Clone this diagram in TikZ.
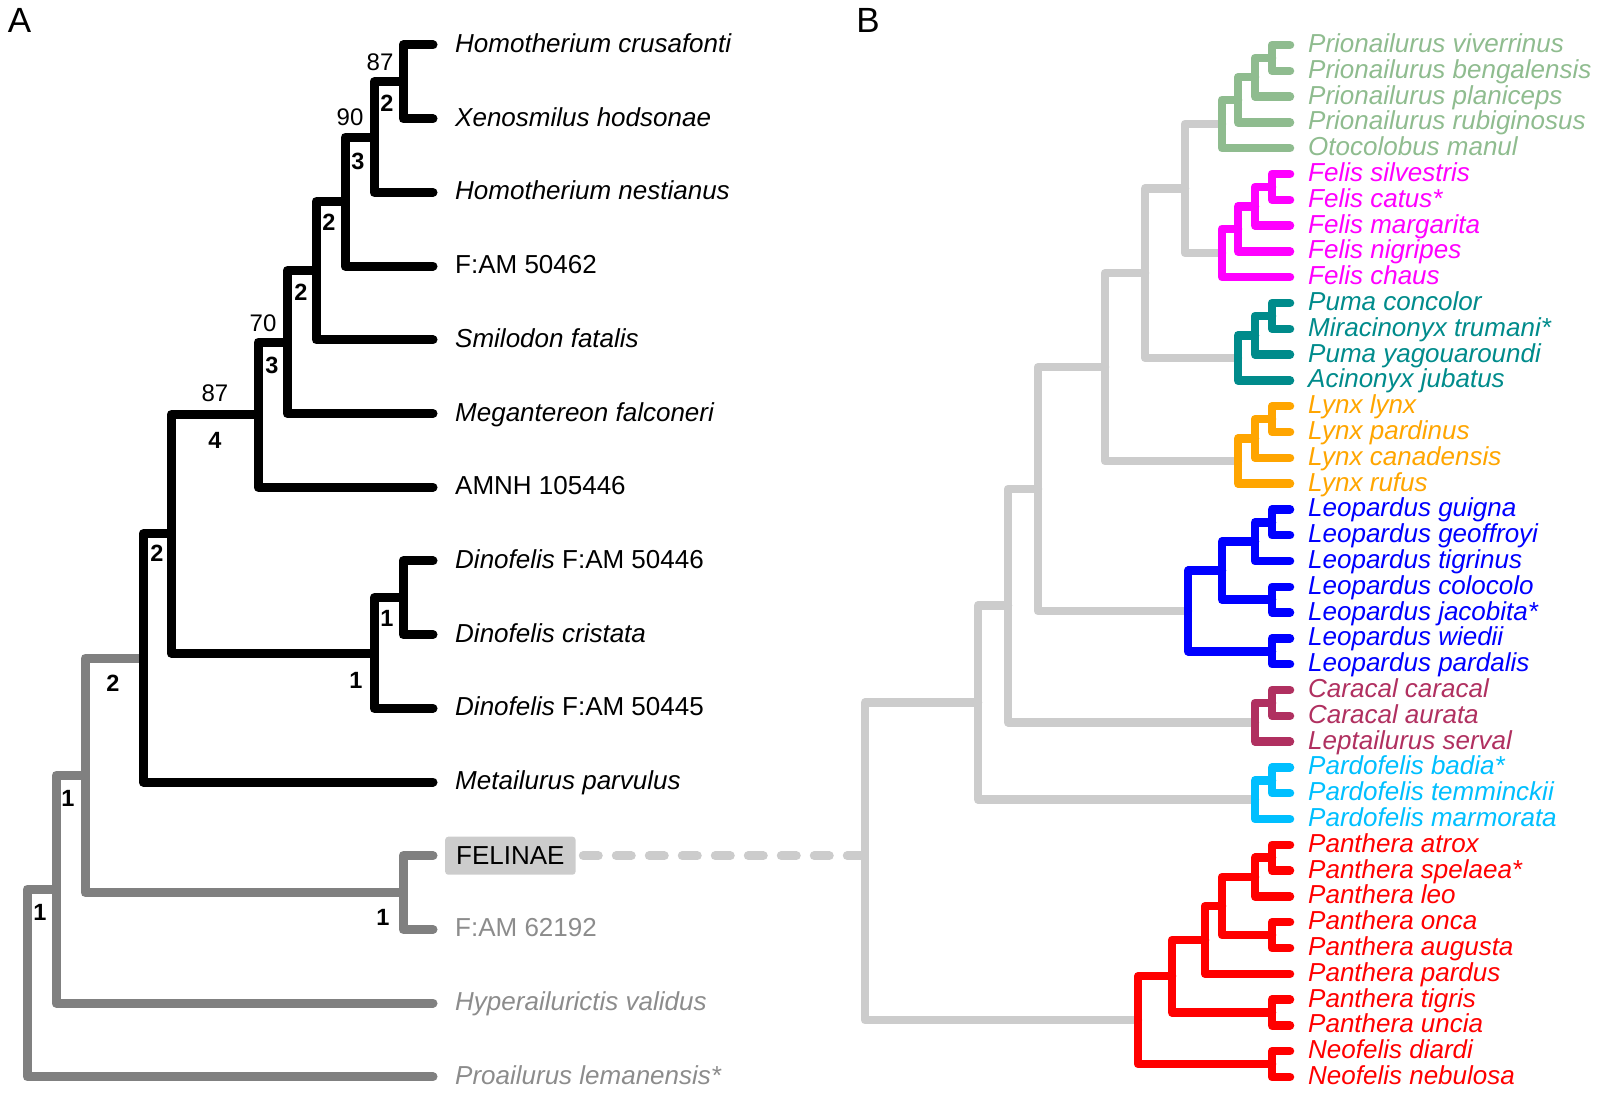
\documentclass[tikz,border=0pt]{standalone}
\usepackage{fontspec}
\setmainfont{Liberation Sans}
\definecolor{agrey}{HTML}{808080}
\definecolor{agreytext}{HTML}{8C8C8C}
\definecolor{bgrey}{HTML}{CCCCCC}
\definecolor{pgreen}{HTML}{8FBC8F}
\definecolor{fmag}{HTML}{FF00FF}
\definecolor{pteal}{HTML}{008B8B}
\definecolor{lorange}{HTML}{FFA500}
\definecolor{lblue}{HTML}{0000FF}
\definecolor{cmaroon}{HTML}{B03060}
\definecolor{pcyan}{HTML}{00BFFF}
\definecolor{pred}{HTML}{FF0000}
\begin{document}
\begin{tikzpicture}
[x=1pt,y=-1pt,
  brA/.style={line width=9pt,line cap=round,line join=round},%
  brB/.style={line width=8.5pt,line cap=round,line join=round},%
  labA/.style={inner sep=0pt,anchor=base west,font=\fontsize{26}{30}\selectfont},%
  labB/.style={inner sep=0pt,anchor=base west,font=\fontsize{26}{30}\selectfont\itshape},%
  supp/.style={inner sep=0pt,font=\fontsize{24}{28}\selectfont},%
  bsupp/.style={inner sep=0pt,font=\fontsize{23.5}{27}\selectfont\bfseries},%
  panel/.style={inner sep=0pt,font=\fontsize{35}{40}\selectfont},%
  cladebox/.style={fill=bgrey,rounded corners=3pt,inner xsep=11pt,minimum height=38pt,
    anchor=west,font=\fontsize{26}{30}\selectfont},%
  linkdash/.style={bgrey,line width=9pt,line cap=round,dash pattern=on 15pt off 18pt}]
\useasboundingbox (0,0) rectangle (1600,1094);
\node[panel] (pA) at (19.5,20.5) {A};
\node[panel] (pB) at (868,20.5) {B};
%% panel A: tips and labels
\foreach \i in {0,...,14} {
  \coordinate (t\i) at (433,{45+73.7*\i});
}
\foreach \i/\nm/\col/\txt in {0/hcru/black/\textit{Homotherium crusafonti},
  1/xhod/black/\textit{Xenosmilus hodsonae}, 2/hnes/black/\textit{Homotherium nestianus},
  3/fam462/black/F:AM 50462, 4/sfat/black/\textit{Smilodon fatalis},
  5/mfal/black/\textit{Megantereon falconeri}, 6/amnh/black/AMNH 105446,
  7/dino446/black/\textit{Dinofelis} F:AM 50446, 8/dcri/black/\textit{Dinofelis cristata},
  9/dino445/black/\textit{Dinofelis} F:AM 50445, 10/mpar/black/\textit{Metailurus parvulus},
  12/fam192/agreytext/F:AM 62192, 13/hval/agreytext/\textit{Hyperailurictis validus},
  14/plem/agreytext/\textit{Proailurus lemanensis*}} {
  \node[labA,text=\col] (\nm) at ([xshift=22pt,yshift=-7.5pt]t\i) {\txt};
}
\node[cladebox] (felinae) at (445,855.7) {FELINAE};
%% panel A: internal nodes
\foreach \n/\x/\y in {a1/403/81.85, a2/374/137.1, a3/345/201.6, a4/316/270.7,
  a5/287/342.1, a6/258/414.7, d1/403/597.8, d2/374/653, a7/171/533.9, a8/143/658,
  fe1/403/892.6, g1/85/775.3, g2/56/889.2, g3/27/983} {
  \coordinate (\n) at (\x,\y);
}
%% panel A: branches
\foreach \p/\c in {g3/g2, g3/t14, g2/g1, g2/t13, g1/a8, g1/fe1, fe1/t11, fe1/t12} {
  \draw[brA,agrey] (\p) |- (\c);
}
\foreach \p/\c in {a8/a7, a8/t10, a7/a6, a7/d2, d2/d1, d2/t9, d1/t7, d1/t8,
  a6/a5, a6/t6, a5/a4, a5/t5, a4/a3, a4/t4, a3/a2, a3/t3, a2/a1, a2/t2, a1/t0, a1/t1} {
  \draw[brA,black] (\p) |- (\c);
}
%% panel A: support values
\foreach \n/\x/\y/\v in {s1/380/62/87, s2/350/117/90, s3/263/323/70, s4/215/393/87} {
  \node[supp] (\n) at (\x,\y) {\v};
}
\foreach \n/\x/\y/\v in {r1/387/103/2, r2/358/161/3, r3/329/222/2, r4/301/292/2,
  r5/272/365/3, r6/215/440/4, r7/157/553/2, r8/387/618/1, r9/356/680/1, r10/113/683/2,
  r11/68/798/1, r12/40/912/1, r13/383/917/1} {
  \node[bsupp] (\n) at (\x,\y) {\v};
}
%% panel B: tips and labels
\foreach \j/\col/\txt in {0/pgreen/Prionailurus viverrinus, 1/pgreen/Prionailurus bengalensis,
  2/pgreen/Prionailurus planiceps, 3/pgreen/Prionailurus rubiginosus, 4/pgreen/Otocolobus manul,
  5/fmag/Felis silvestris, 6/fmag/Felis catus*, 7/fmag/Felis margarita, 8/fmag/Felis nigripes,
  9/fmag/Felis chaus, 10/pteal/Puma concolor, 11/pteal/Miracinonyx trumani*,
  12/pteal/Puma yagouaroundi, 13/pteal/Acinonyx jubatus, 14/lorange/Lynx lynx,
  15/lorange/Lynx pardinus, 16/lorange/Lynx canadensis, 17/lorange/Lynx rufus,
  18/lblue/Leopardus guigna, 19/lblue/Leopardus geoffroyi, 20/lblue/Leopardus tigrinus,
  21/lblue/Leopardus colocolo, 22/lblue/Leopardus jacobita*, 23/lblue/Leopardus wiedii,
  24/lblue/Leopardus pardalis, 25/cmaroon/Caracal caracal, 26/cmaroon/Caracal aurata,
  27/cmaroon/Leptailurus serval, 28/pcyan/Pardofelis badia*, 29/pcyan/Pardofelis temminckii,
  30/pcyan/Pardofelis marmorata, 31/pred/Panthera atrox, 32/pred/Panthera spelaea*,
  33/pred/Panthera leo, 34/pred/Panthera onca, 35/pred/Panthera augusta,
  36/pred/Panthera pardus, 37/pred/Panthera tigris, 38/pred/Panthera uncia,
  39/pred/Neofelis diardi, 40/pred/Neofelis nebulosa} {
  \coordinate (b\j) at (1290,{45+25.8*\j});
  \node[labB,text=\col] (sp\j) at ([xshift=18pt,yshift=-7.5pt]b\j) {\txt};
}
%% panel B: internal nodes
\foreach \n/\x/\y in {p1/1272/57.9, p2/1255/77.25, p3/1238/99.8, p4/1222/124,
  q1/1272/186.9, q2/1255/206.25, q3/1238/228.8, q4/1222/253,
  u1/1272/315.9, u2/1255/335.25, u3/1238/357.8,
  l1/1272/419.1, l2/1255/438.45, l3/1238/461,
  e1/1272/522.3, e2/1255/541.65, e3/1272/599.7, e4/1222/570.7, e5/1272/651.3, e6/1188/611,
  m1/1272/702.9, m2/1255/722.25, c1/1272/780.3, c2/1255/799.65,
  h1/1272/857.7, h2/1255/877.05, h3/1272/935.1, h4/1222/906.1, h5/1205/939.95,
  h6/1272/1012.5, h7/1172/976.2, h8/1272/1064.1, h9/1138/1020.15,
  k1/1185/188.5, k2/1145/273.15, k3/1105/367.1, k4/1038/489.05, k5/1008/605.65,
  k6/978/702.65, k0/865/861.4} {
  \coordinate (\n) at (\x,\y);
}
%% panel B: branches
\draw[linkdash] ([xshift=7.5pt]felinae.east) -- (felinae.east -| k0);
\foreach \p/\c in {k0/k6, k0/h9, k6/k5, k6/c2, k5/k4, k5/m2, k4/k3, k4/e6,
  k3/k2, k3/l3, k2/k1, k2/u3, k1/p4, k1/q4} {
  \draw[brB,bgrey] (\p) |- (\c);
}
\foreach \p/\c/\col in {p4/p3/pgreen, p4/b4/pgreen, p3/p2/pgreen, p3/b3/pgreen,
  p2/p1/pgreen, p2/b2/pgreen, p1/b0/pgreen, p1/b1/pgreen,
  q4/q3/fmag, q4/b9/fmag, q3/q2/fmag, q3/b8/fmag, q2/q1/fmag, q2/b7/fmag,
  q1/b5/fmag, q1/b6/fmag,
  u3/u2/pteal, u3/b13/pteal, u2/u1/pteal, u2/b12/pteal, u1/b10/pteal, u1/b11/pteal,
  l3/l2/lorange, l3/b17/lorange, l2/l1/lorange, l2/b16/lorange, l1/b14/lorange, l1/b15/lorange,
  e6/e4/lblue, e6/e5/lblue, e4/e2/lblue, e4/e3/lblue, e2/e1/lblue, e2/b20/lblue,
  e1/b18/lblue, e1/b19/lblue, e3/b21/lblue, e3/b22/lblue, e5/b23/lblue, e5/b24/lblue,
  m2/m1/cmaroon, m2/b27/cmaroon, m1/b25/cmaroon, m1/b26/cmaroon,
  c2/c1/pcyan, c2/b30/pcyan, c1/b28/pcyan, c1/b29/pcyan,
  h9/h7/pred, h9/h8/pred, h7/h5/pred, h7/h6/pred, h5/h4/pred, h5/b36/pred,
  h4/h2/pred, h4/h3/pred, h2/h1/pred, h2/b33/pred, h1/b31/pred, h1/b32/pred,
  h3/b34/pred, h3/b35/pred, h6/b37/pred, h6/b38/pred, h8/b39/pred, h8/b40/pred} {
  \draw[brB,color=\col] (\p) |- (\c);
}
\end{tikzpicture}
\end{document}
